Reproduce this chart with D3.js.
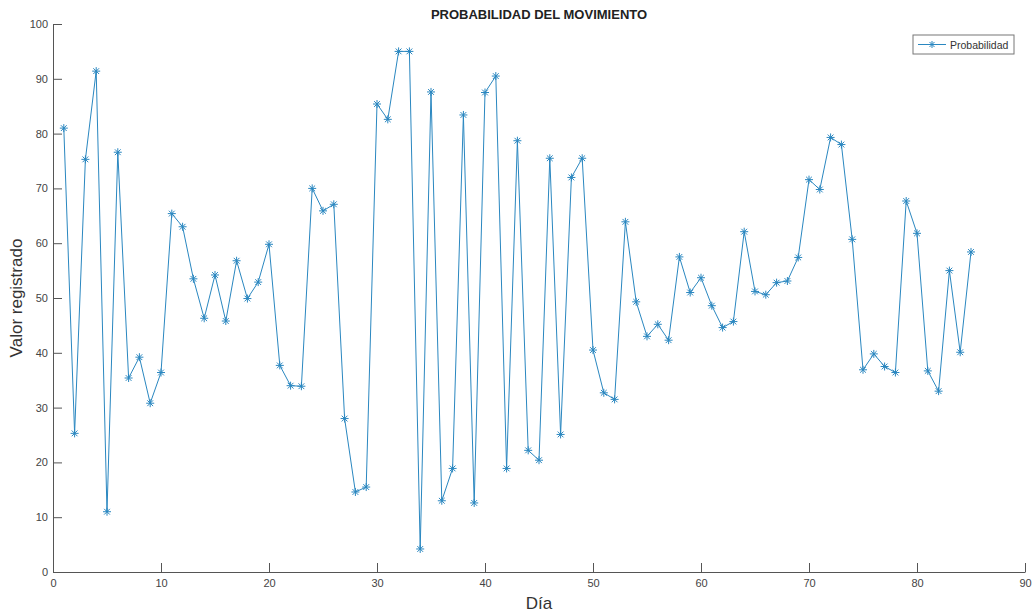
<!DOCTYPE html>
<html lang="es">
<head>
<meta charset="UTF-8">
<script src="https://d3js.org/d3.v7.min.js"></script>
<style>
  body { margin: 0; background: #fff; }
  text { font-family: "Liberation Sans", Arial, sans-serif; }
</style>
</head>
<body>
<svg id="chart" width="1034" height="614"></svg>
<script>
// datos
const dias = d3.range(1, 86);
const probabilidad = [
  81.0, 25.3, 75.3, 91.4, 11.0, 76.6, 35.4, 39.2, 30.8, 36.4,
  65.4, 63.0, 53.5, 46.3, 54.2, 45.8, 56.8, 49.9, 52.9, 59.8,
  37.7, 34.0, 33.9, 70.0, 65.9, 67.1, 28.0, 14.6, 15.5, 85.4,
  82.6, 95.0, 95.0, 4.2, 87.6, 13.0, 18.9, 83.4, 12.6, 87.5,
  90.5, 18.9, 78.7, 22.2, 20.4, 75.5, 25.1, 72.0, 75.5, 40.5,
  32.7, 31.5, 63.9, 49.3, 43.0, 45.2, 42.3, 57.5, 51.0, 53.7,
  48.6, 44.6, 45.7, 62.1, 51.2, 50.6, 52.8, 53.1, 57.4, 71.6,
  69.8, 79.3, 78.0, 60.7, 36.9, 39.8, 37.5, 36.4, 67.7, 61.8,
  36.7, 33.0, 55.0, 40.1, 58.4
];
const xTicks = d3.range(0, 91, 10);
const yTicks = d3.range(0, 101, 10);

const svg = d3.select("#chart");
const mLeft = 53, mRight = 1025, mTop = 24, mBottom = 572;
const azul = "#2a87c0";
const gris = "#555";

const x = d3.scaleLinear().domain([0, 90]).range([mLeft, mRight]);
const y = d3.scaleLinear().domain([0, 100]).range([mBottom, mTop]);

// ejes
const gx = svg.append("g").attr("transform", `translate(0,${mBottom})`)
  .call(d3.axisBottom(x).tickValues(xTicks).tickSizeInner(-9).tickSizeOuter(0).tickPadding(13));
const gy = svg.append("g").attr("transform", `translate(${mLeft},0)`)
  .call(d3.axisLeft(y).tickValues(yTicks).tickSizeInner(-9).tickSizeOuter(0).tickPadding(5));

[gx, gy].forEach(g => {
  g.select(".domain").attr("stroke", gris).attr("stroke-width", 1);
  g.selectAll(".tick line").attr("stroke", gris);
  g.selectAll(".tick text").attr("fill", "#444").style("font-size", "11px");
});
gx.selectAll(".tick text").attr("dy", "0.2em");

// linea
const linea = d3.line().x((d, i) => x(dias[i])).y(d => y(d));
svg.append("path")
  .datum(probabilidad)
  .attr("fill", "none")
  .attr("stroke", azul)
  .attr("stroke-width", 1)
  .attr("d", linea);

// marcadores asterisco
function asterisco(g, cx, cy, r) {
  const a = r * 0.72;
  g.append("path")
    .attr("d", `M${cx - r},${cy}H${cx + r}M${cx},${cy - r}V${cy + r}` +
      `M${cx - a},${cy - a}L${cx + a},${cy + a}M${cx - a},${cy + a}L${cx + a},${cy - a}`)
    .attr("stroke", azul)
    .attr("stroke-width", 1)
    .attr("fill", "none");
}
const marcas = svg.append("g");
probabilidad.forEach((v, i) => asterisco(marcas, x(dias[i]), y(v), 4));

// titulo y etiquetas
svg.append("text")
  .attr("x", (mLeft + mRight) / 2).attr("y", 19)
  .attr("text-anchor", "middle")
  .style("font-size", "13px").style("font-weight", "bold").attr("fill", "#222")
  .text("PROBABILIDAD DEL MOVIMIENTO");

svg.append("text")
  .attr("x", (mLeft + mRight) / 2).attr("y", 609)
  .attr("text-anchor", "middle")
  .style("font-size", "17px").attr("fill", "#333")
  .text("Día");

svg.append("text")
  .attr("transform", `translate(22,${(mTop + mBottom) / 2}) rotate(-90)`)
  .attr("text-anchor", "middle")
  .style("font-size", "17px").attr("fill", "#333")
  .text("Valor registrado");

// leyenda
const ley = svg.append("g");
ley.append("rect")
  .attr("x", 913).attr("y", 35).attr("width", 101).attr("height", 19)
  .attr("fill", "#fff").attr("stroke", "#777").attr("stroke-width", 1);
ley.append("line")
  .attr("x1", 918).attr("x2", 946).attr("y1", 44.5).attr("y2", 44.5)
  .attr("stroke", azul);
asterisco(ley, 932, 44.5, 3.5);
ley.append("text")
  .attr("x", 950).attr("y", 48.5)
  .style("font-size", "10.5px").attr("fill", "#333")
  .text("Probabilidad");
</script>
</body>
</html>
